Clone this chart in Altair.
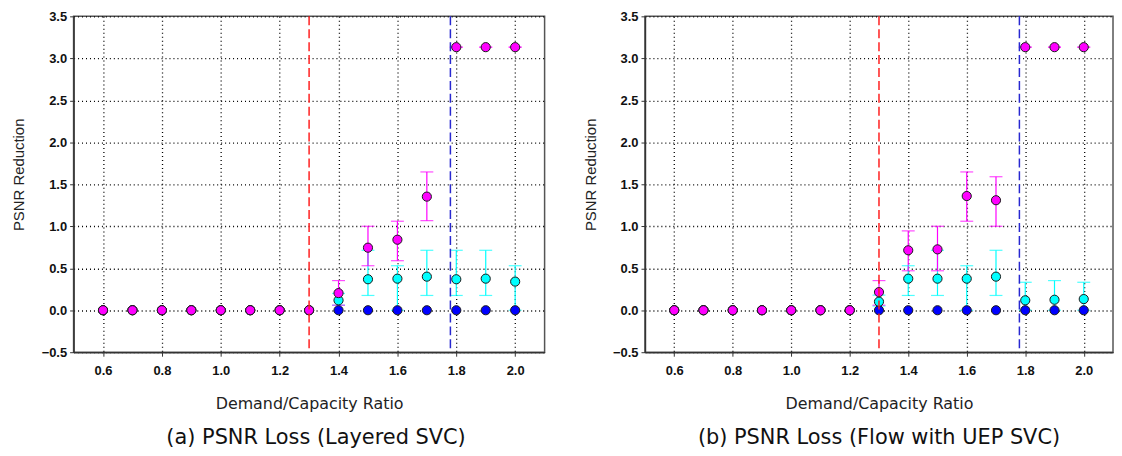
import altair as alt
import pandas as pd

# ---------------- data ----------------
x_vals = [0.6, 0.7, 0.8, 0.9, 1.0, 1.1, 1.2, 1.3, 1.4, 1.5, 1.6, 1.7, 1.8, 1.9, 2.0]
x_ticks = [0.6, 0.8, 1.0, 1.2, 1.4, 1.6, 1.8, 2.0]
y_ticks = [-0.5, 0.0, 0.5, 1.0, 1.5, 2.0, 2.5, 3.0, 3.5]
series_names = ["blue", "cyan", "magenta"]
series_colors = ["#0000ff", "#00ffff", "#ff00ff"]

# (a) Layered SVC
a_blue = [0] * 15
a_cyan = [0, 0, 0, 0, 0, 0, 0, 0, 0.118, 0.369, 0.376, 0.40, 0.369, 0.376, 0.341]
a_cyan_lo = [0, 0, 0, 0, 0, 0, 0, 0, 0.06, 0.176, 0.0, 0.176, 0.176, 0.176, 0.0]
a_cyan_hi = [0, 0, 0, 0, 0, 0, 0, 0, 0.20, 0.714, 0.53, 0.714, 0.714, 0.714, 0.53]
a_mag = [0, 0, 0, 0, 0, 0, 0, 0, 0.204, 0.745, 0.84, 1.353, 3.133, 3.133, 3.133]
a_mag_lo = [0, 0, 0, 0, 0, 0, 0, 0, 0.06, 0.53, 0.59, 1.067, 3.133, 3.133, 3.133]
a_mag_hi = [0, 0, 0, 0, 0, 0, 0, 0, 0.353, 1.0, 1.06, 1.647, 3.133, 3.133, 3.133]

# (b) Flow with UEP SVC
b_blue = [0] * 15
b_cyan = [0, 0, 0, 0, 0, 0, 0, 0.102, 0.376, 0.376, 0.376, 0.40, 0.118, 0.125, 0.133]
b_cyan_lo = [0, 0, 0, 0, 0, 0, 0, 0.05, 0.176, 0.176, 0.0, 0.176, 0.0, 0.0, 0.0]
b_cyan_hi = [0, 0, 0, 0, 0, 0, 0, 0.18, 0.53, 0.714, 0.53, 0.714, 0.333, 0.353, 0.333]
b_mag = [0, 0, 0, 0, 0, 0, 0, 0.216, 0.714, 0.725, 1.36, 1.31, 3.133, 3.133, 3.133]
b_mag_lo = [0, 0, 0, 0, 0, 0, 0, 0.06, 0.47, 0.47, 1.06, 1.0, 3.133, 3.133, 3.133]
b_mag_hi = [0, 0, 0, 0, 0, 0, 0, 0.353, 0.945, 1.0, 1.647, 1.59, 3.133, 3.133, 3.133]

vline_x = [1.3, 1.78]
vline_colors = ["#ff2020", "#2828d0"]

caption_a = "(a) PSNR Loss (Layered SVC)"
caption_b = "(b) PSNR Loss (Flow with UEP SVC)"


def long_df(blue, cyan, cyan_lo, cyan_hi, mag, mag_lo, mag_hi):
    rows = []
    for i, x in enumerate(x_vals):
        rows.append(dict(x=x, s="blue", v=blue[i], lo=blue[i], hi=blue[i]))
    for i, x in enumerate(x_vals):
        rows.append(dict(x=x, s="cyan", v=cyan[i], lo=cyan_lo[i], hi=cyan_hi[i]))
    for i, x in enumerate(x_vals):
        rows.append(dict(x=x, s="magenta", v=mag[i], lo=mag_lo[i], hi=mag_hi[i]))
    return pd.DataFrame(rows)


df_a = long_df(a_blue, a_cyan, a_cyan_lo, a_cyan_hi, a_mag, a_mag_lo, a_mag_hi)
df_b = long_df(b_blue, b_cyan, b_cyan_lo, b_cyan_hi, b_mag, b_mag_lo, b_mag_hi)
df_v = pd.DataFrame({"x": vline_x, "c": vline_colors})

PLOT_H = 338

xscale = alt.Scale(domain=[0.5, 2.1], nice=False, zero=False)
yscale = alt.Scale(domain=[-0.5, 3.5], nice=False, zero=False)
cscale = alt.Scale(domain=series_names, range=series_colors)

xaxis = alt.Axis(values=x_ticks, format=".1f", title="Demand/Capacity Ratio",
                 titleY=52, titleBaseline="middle")
yaxis = alt.Axis(values=y_ticks, format=".1f", title="PSNR Reduction",
                 titleX=-55, titleY=159, titleBaseline="middle", titleAngle=-90)


def panel(df, caption, width, dx):
    X = alt.X("x:Q", scale=xscale, axis=xaxis)
    color = alt.Color("s:N", scale=cscale, legend=None)
    base = alt.Chart(df)
    err = base.transform_filter("datum.v > 0").mark_rule(strokeWidth=1.2).encode(
        x=X, y=alt.Y("lo:Q", scale=yscale, axis=yaxis), y2="hi:Q", color=color)
    cap_lo = base.transform_filter("datum.v > 0").mark_tick(
        orient="horizontal", size=13, thickness=1.2).encode(
        x=X, y=alt.Y("lo:Q", scale=yscale, axis=yaxis), color=color)
    cap_hi = base.transform_filter("datum.v > 0").mark_tick(
        orient="horizontal", size=13, thickness=1.2).encode(
        x=X, y=alt.Y("hi:Q", scale=yscale, axis=yaxis), color=color)
    pts = base.mark_point(filled=True, shape="circle", size=85, opacity=1,
                          stroke="#1a1a1a", strokeWidth=1).encode(
        x=X, y=alt.Y("v:Q", scale=yscale, axis=yaxis), fill=color)
    vl = alt.Chart(df_v).mark_rule(strokeDash=[9, 4], strokeWidth=1.5).encode(
        x=X, color=alt.Color("c:N", scale=None))
    return alt.layer(err, cap_lo, cap_hi, pts, vl).properties(
        width=width, height=PLOT_H,
        title=alt.TitleParams(caption, orient="bottom", anchor="middle",
                              frame="group", fontSize=21, font="DejaVu Sans",
                              fontWeight="normal", color="#111", offset=15, dx=dx))


left = panel(df_a, caption_a, 474, 7)
right = panel(df_b, caption_b, 471, 0)

chart = alt.hconcat(left, right, spacing=101, bounds="flush").properties(
    padding={"left": 3, "top": 0, "right": 0, "bottom": 0}
).configure_view(
    stroke="#555", strokeWidth=1.5
).configure_axis(
    grid=True, gridColor="#000", gridDash=[1, 3], gridWidth=1.3, gridOpacity=1,
    domainColor="#333", domainWidth=1.5, tickColor="#333", tickSize=4,
    labelFont="Liberation Sans", labelFontWeight="bold", labelFontSize=13,
    labelColor="#111", labelPadding=3,
    titleFont="Liberation Sans", titleFontWeight="normal", titleFontSize=15,
    titleColor="#222"
).configure_axisX(
    labelPadding=8, titleFont="DejaVu Sans", titleFontSize=16
).configure_concat(spacing=101)

chart.save("out.html", embed_options={"renderer": "svg", "actions": False})
